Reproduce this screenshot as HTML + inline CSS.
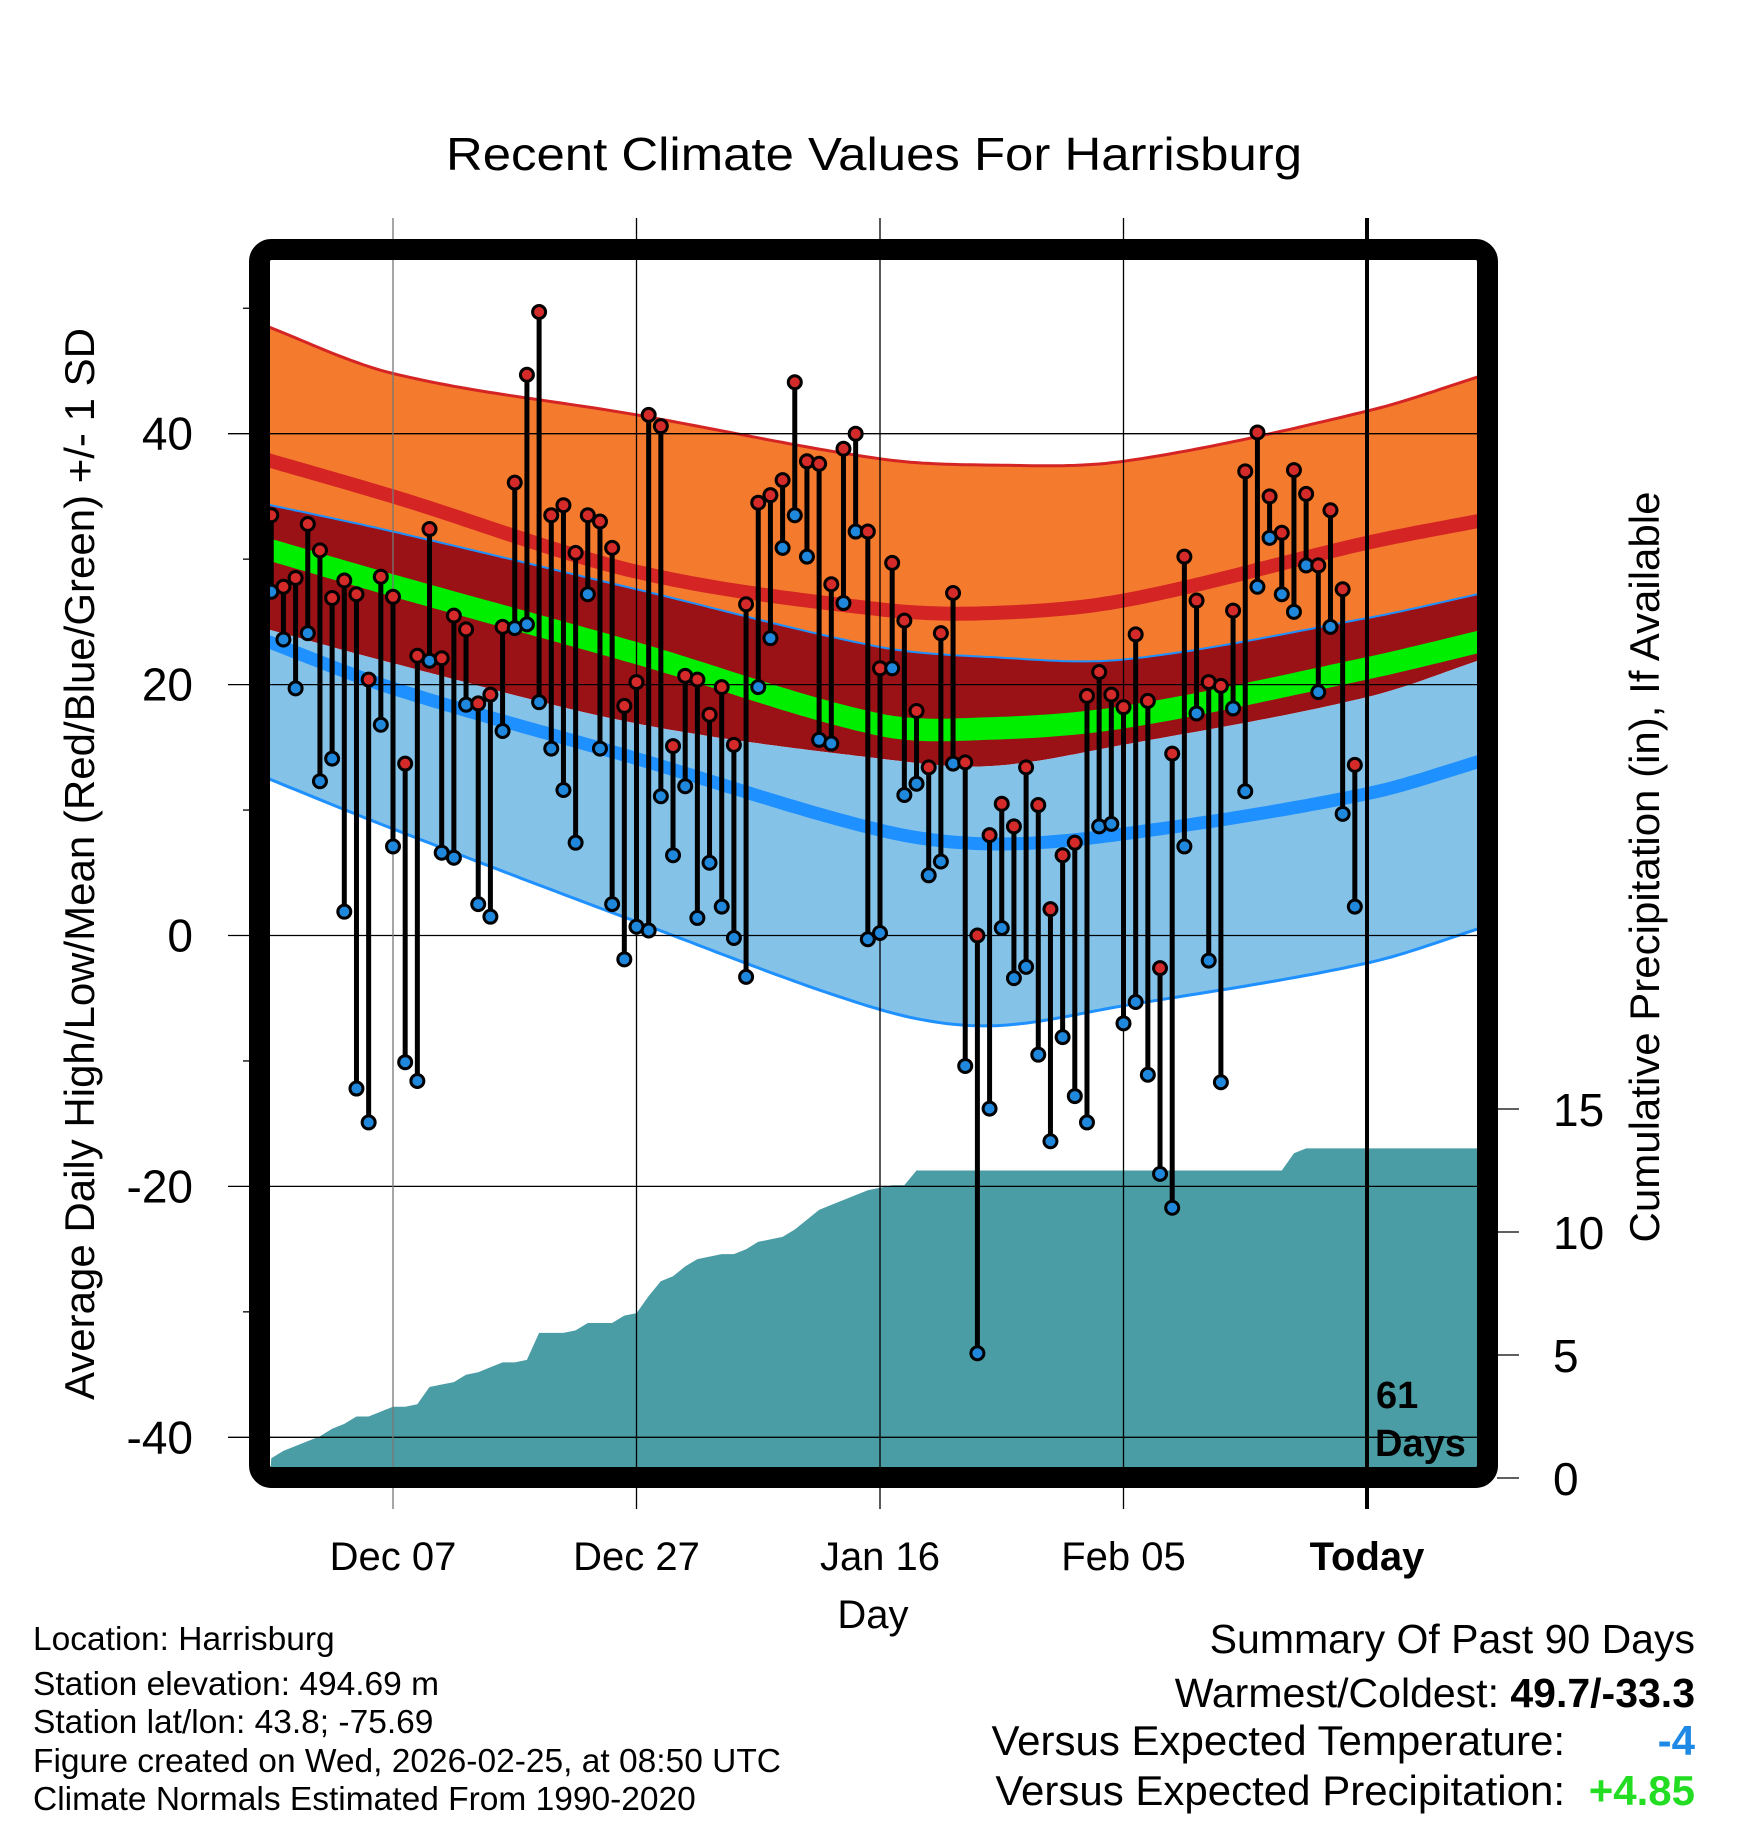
<!DOCTYPE html>
<html><head><meta charset="utf-8"><style>
html,body{margin:0;padding:0;background:#fff;}
svg{display:block;font-family:"Liberation Sans",Arial,sans-serif;}
</style></head><body>
<svg id="chart" width="1748" height="1828" viewBox="0 0 1748 1828" xmlns="http://www.w3.org/2000/svg">
<defs><clipPath id="plotClip"><rect x="270" y="260" width="1208" height="1207"/></clipPath></defs>
<text x="874" y="170" font-size="46" text-anchor="middle" textLength="856" lengthAdjust="spacingAndGlyphs">Recent Climate Values For Harrisburg</text>
<g id="bands" clip-path="url(#plotClip)"></g>
<g id="precip" clip-path="url(#plotClip)"></g>
<g id="grid"></g>
<g id="marks"></g>
<rect x="259.5" y="249.5" width="1228" height="1228" rx="12" fill="none" stroke="#000" stroke-width="21"/>
<g id="axes"></g>
<text x="1376" y="1408" font-size="38" font-weight="bold">61</text>
<text x="1375" y="1456" font-size="38" font-weight="bold">Days</text>
<text x="873" y="1628" font-size="40" text-anchor="middle">Day</text>
<text transform="translate(94,864) rotate(-90)" font-size="42" text-anchor="middle">Average Daily High/Low/Mean (Red/Blue/Green) +/- 1 SD</text>
<text transform="translate(1659,867) rotate(-90)" font-size="42" text-anchor="middle">Cumulative Precipitation (in), If Available</text>
<g font-size="33.5">
<text x="33" y="1650">Location: Harrisburg</text>
<text x="33" y="1695">Station elevation: 494.69 m</text>
<text x="33" y="1733">Station lat/lon: 43.8; -75.69</text>
<text x="33" y="1772">Figure created on Wed, 2026-02-25, at 08:50 UTC</text>
<text x="33" y="1810">Climate Normals Estimated From 1990-2020</text>
</g>
<g text-anchor="end">
<text x="1695" y="1653" font-size="41">Summary Of Past 90 Days</text>
<text x="1695" y="1707" font-size="41">Warmest/Coldest: <tspan font-weight="bold">49.7/-33.3</tspan></text>
<text x="1565" y="1755" font-size="42">Versus Expected Temperature:</text>
<text x="1695" y="1755" font-size="42" font-weight="bold" fill="#1e8ae6">-4</text>
<text x="1565" y="1805" font-size="42">Versus Expected Precipitation:</text>
<text x="1695" y="1805" font-size="42" font-weight="bold" fill="#22dd22">+4.85</text>
</g>
</svg>
<script>
const highs=[33.5,27.8,28.5,32.8,30.7,26.9,28.3,27.2,20.4,28.6,27.0,13.7,22.3,32.4,22.1,25.5,24.4,18.5,19.2,24.6,36.1,44.7,49.7,33.5,34.3,30.5,33.5,33.0,30.9,18.3,20.2,41.5,40.6,15.1,20.7,20.4,17.6,19.8,15.2,26.4,34.5,35.1,36.3,44.1,37.8,37.6,28.0,38.8,40.0,32.2,21.3,29.7,25.1,17.9,13.4,24.1,27.3,13.8,0.0,8.0,10.5,8.7,13.4,10.4,2.1,6.4,7.4,19.1,21.0,19.2,18.2,24.0,18.7,-2.6,14.5,30.2,26.7,20.2,19.9,25.9,37.0,40.1,35.0,32.1,37.1,35.2,29.5,33.9,27.6,13.6];
const lows=[27.4,23.6,19.7,24.1,12.3,14.1,1.9,-12.2,-14.9,16.8,7.1,-10.1,-11.6,21.9,6.6,6.2,18.4,2.5,1.5,16.3,24.5,24.8,18.6,14.9,11.6,7.4,27.2,14.9,2.5,-1.9,0.7,0.4,11.1,6.4,11.9,1.4,5.8,2.3,-0.2,-3.3,19.8,23.7,30.9,33.5,30.2,15.6,15.3,26.5,32.2,-0.3,0.2,21.3,11.2,12.1,4.8,5.9,13.7,-10.4,-33.3,-13.8,0.6,-3.4,-2.5,-9.5,-16.4,-8.1,-12.8,-14.9,8.7,8.9,-7.0,-5.3,-11.1,-19.0,-21.7,7.1,17.7,-2.0,-11.7,18.1,11.5,27.8,31.7,27.2,25.8,29.5,19.4,24.6,9.7,2.3];
const precipCum=[0.8,1.1,1.3,1.5,1.7,2.0,2.2,2.5,2.5,2.7,2.9,2.9,3.0,3.7,3.8,3.9,4.2,4.3,4.5,4.7,4.7,4.8,5.9,5.9,5.9,6.0,6.3,6.3,6.3,6.6,6.7,7.4,8.0,8.2,8.6,8.9,9.0,9.1,9.1,9.3,9.6,9.7,9.8,10.1,10.5,10.9,11.1,11.3,11.5,11.7,11.8,11.9,11.9,12.5,12.5,12.5,12.5,12.5,12.5,12.5,12.5,12.5,12.5,12.5,12.5,12.5,12.5,12.5,12.5,12.5,12.5,12.5,12.5,12.5,12.5,12.5,12.5,12.5,12.5,12.5,12.5,12.5,12.5,12.5,13.2,13.4,13.4,13.4,13.4,13.4];
const normDays=[-91,-80,-60,-40,-31,-20,0,10];
const normHighTop=[48.8,44.8,41.5,38.0,37.5,37.8,41.8,44.8];
const normHighMean=[38.1,35.0,29.0,26.0,25.7,26.7,31.3,33.2];
const normHighBot=[34.5,32.2,27.6,23.0,22.2,22.0,25.3,27.4];
const normMeanTop=[31.9,28.8,23.4,17.7,17.4,18.3,22.2,24.5];
const normLowTop=[24.6,21.7,16.9,14.1,13.5,15.2,19.0,22.2];
const normLowMean=[23.7,19.7,14.1,8.4,7.3,8.1,11.3,14.1];
const normLowBot=[12.8,8.5,1.1,-5.9,-7.2,-5.6,-2.2,0.8];
const yTicks=[40,20,0,-20,-40];
const yMinor=[50,30,10,-10,-30];
const pTicks=[0,5,10,15];
const xTickDays=[-80,-60,-40,-20,0];
const xTickLabels=["Dec 07","Dec 27","Jan 16","Feb 05","Today"];

const NS="http://www.w3.org/2000/svg";
const X=d=>1367+12.175*d;
const Y=t=>935.5-12.545*t;
const P=p=>1478-24.6*p;
function mk(tag,parent,attrs){const e=document.createElementNS(NS,tag);for(const k in attrs)e.setAttribute(k,attrs[k]);parent.appendChild(e);return e;}
function interp(arr,d){
  let i=0;while(i<normDays.length-2&&d>normDays[i+1])i++;
  const x0=normDays[i],x1=normDays[i+1];const t=(d-x0)/(x1-x0);
  const p0=arr[Math.max(i-1,0)],p1=arr[i],p2=arr[i+1],p3=arr[Math.min(i+2,arr.length-1)];
  const h=x1-x0;
  const m1=(p2-p0)/((normDays[i+1]-normDays[Math.max(i-1,0)])||1)*h;
  const m2=(p3-p1)/((normDays[Math.min(i+2,arr.length-1)]-normDays[i])||1)*h;
  const t2=t*t,t3=t2*t;
  return (2*t3-3*t2+1)*p1+(t3-2*t2+t)*m1+(-2*t3+3*t2)*p2+(t3-t2)*m2;
}
const dd=[];for(let d=-91;d<=10;d+=0.5)dd.push(d);
function line(arr,off){return dd.map(d=>X(d).toFixed(1)+","+Y(interp(arr,d)+(off||0)).toFixed(1));}
function band(a,b,off){return line(a).concat(line(b,off).reverse()).join(" ");}
const bands=document.getElementById('bands');
let e;
e=mk('polygon',bands,{points:band(normHighTop,normHighBot),fill:'#f47b2d'});


e=mk('polygon',bands,{points:band(normHighBot,normLowTop),fill:'#9a1216'});


e=mk('polygon',bands,{points:band(normLowTop,normLowBot),fill:'#84c2e8'});


e=mk('polygon',bands,{points:band(normMeanTop,normMeanTop,-1.8),fill:'#00ee00'});


e=mk('polyline',bands,{points:line(normHighMean).join(" "),fill:'none',stroke:'#d42424','stroke-width':14});


e=mk('polyline',bands,{points:line(normLowMean).join(" "),fill:'none',stroke:'#1e90ff','stroke-width':13});


e=mk('polyline',bands,{points:line(normHighTop).join(" "),fill:'none',stroke:'#d42424','stroke-width':3});


e=mk('polyline',bands,{points:line(normHighBot).join(" "),fill:'none',stroke:'#1e90ff','stroke-width':2});


e=mk('polyline',bands,{points:line(normLowBot).join(" "),fill:'none',stroke:'#1e90ff','stroke-width':3});



const n=precipCum.length;
const pp=[];
pp.push(X(-n-0.1)+","+P(0));
precipCum.forEach((v,i)=>{pp.push(X(i-n).toFixed(1)+","+P(v).toFixed(1));});
pp.push("1480,"+P(precipCum[n-1]).toFixed(1));
pp.push("1480,"+P(0));
e=mk('polygon',document.getElementById('precip'),{points:pp.join(" "),fill:'#4a9ca5'});



const grid=document.getElementById('grid');
yTicks.forEach(t=>{
  e=mk('line',grid,{x1:228,x2:1478,y1:Y(t),y2:Y(t),stroke:'#000','stroke-width':1.3});
  
  
});
xTickDays.forEach((d,i)=>{
  if(i===4)return;
  e=mk('line',grid,{x1:X(d),x2:X(d),y1:218,y2:1509,stroke:i===0?'#777':'#000','stroke-width':1.3});
  
  
});

const marks=document.getElementById('marks');
highs.forEach((h,i)=>{
  const x=X(i-n);
  e=mk('line',marks,{x1:x,x2:x,y1:Y(h),y2:Y(lows[i]),stroke:'#000','stroke-width':5});
  
  
});
highs.forEach((h,i)=>{
  const x=X(i-n);
  e=mk('circle',marks,{cx:x,cy:Y(lows[i]),r:6.5,fill:'#1f88dc',stroke:'#000','stroke-width':3});
  
  
  e=mk('circle',marks,{cx:x,cy:Y(h),r:6.5,fill:'#d42a2a',stroke:'#000','stroke-width':3});
  
  
});
e=mk('line',marks,{x1:X(0),x2:X(0),y1:218,y2:1509,stroke:'#000','stroke-width':4});



const axes=document.getElementById('axes');
yTicks.forEach(t=>{
  e=mk('text',axes,{x:193,y:Y(t)+16,'font-size':46,'text-anchor':'end'});
  e.textContent=String(t);
  
  
});
yMinor.forEach(t=>{
  e=mk('line',axes,{x1:243,x2:250,y1:Y(t),y2:Y(t),stroke:'#000','stroke-width':1.3});
  
  
});
pTicks.forEach(p=>{
  e=mk('line',axes,{x1:1497,x2:1519,y1:P(p),y2:P(p),stroke:'#000','stroke-width':1.3});
  
  
  e=mk('text',axes,{x:1553,y:P(p)+17,'font-size':46});
  e.textContent=String(p);
  
  
});
xTickDays.forEach((d,i)=>{
  e=mk('text',axes,{x:X(d),y:1570,'font-size':40,'text-anchor':'middle','font-weight':i===4?'bold':'normal'});
  e.textContent=xTickLabels[i];
  
  
});
</script>
</body></html>
